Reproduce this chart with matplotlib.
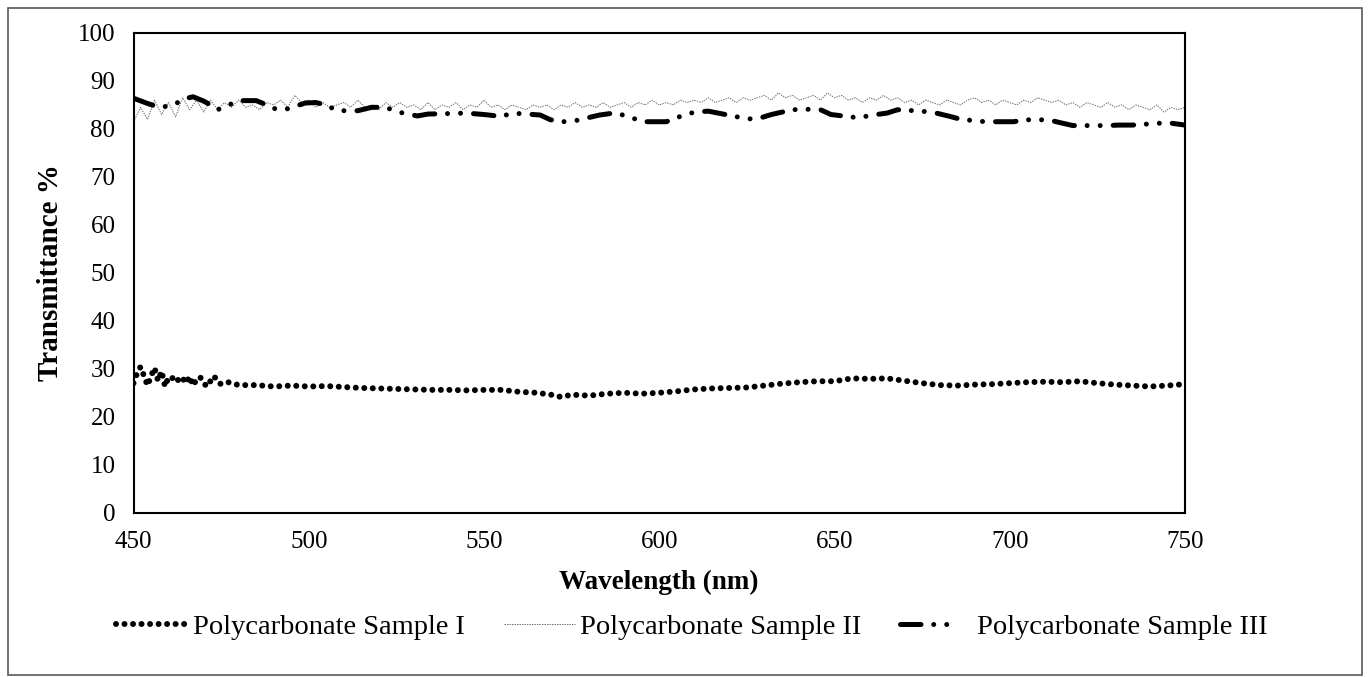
import matplotlib
matplotlib.use("Agg")
import matplotlib.pyplot as plt
from matplotlib.patches import Rectangle
import numpy as np

plt.rcParams['font.family'] = ['Liberation Serif', 'DejaVu Serif']
plt.rcParams['lines.scale_dashes'] = False

# ---- data ----
wl_s1 = [450, 451, 452, 453, 454, 455, 456, 457, 458, 459, 460, 461, 462, 463, 464,
         465, 466, 467, 468, 469, 470, 471, 472, 473, 474, 475, 477, 480, 485, 490,
         495, 500, 505, 510, 515, 520, 525, 530, 535, 540, 545, 550, 555, 560, 565,
         570, 572, 575, 580, 585, 590, 595, 600, 605, 610, 615, 620, 625, 630, 635,
         640, 645, 650, 655, 660, 665, 670, 675, 680, 685, 690, 695, 700, 705, 710,
         715, 720, 725, 730, 735, 740, 745, 750]
t_s1 = [27.0, 29.0, 30.4, 28.5, 26.5, 28.5, 30.2, 27.5, 29.5, 26.3, 28.3, 28.0, 28.5, 27.3, 28.0,
        27.0, 28.4, 26.5, 27.8, 28.3, 27.0, 26.3, 27.5, 28.5, 27.2, 26.8, 27.2, 26.6, 26.6, 26.3,
        26.5, 26.3, 26.4, 26.2, 26.0, 25.9, 25.8, 25.7, 25.6, 25.6, 25.5, 25.6, 25.6, 25.2, 25.0,
        24.5, 24.1, 24.6, 24.4, 24.8, 25.0, 24.8, 25.0, 25.3, 25.7, 25.9, 26.0, 26.1, 26.5, 26.9,
        27.2, 27.4, 27.4, 28.0, 27.9, 28.0, 27.5, 27.0, 26.6, 26.5, 26.7, 26.8, 27.0, 27.2, 27.3,
        27.2, 27.4, 27.0, 26.7, 26.5, 26.3, 26.5, 26.8]

wl_s2 = list(range(450, 751, 2))
t_s2 = [81.5, 84.5, 82.0, 86.0, 83.0, 85.5, 82.5, 86.5, 84.0, 86.0,
        83.5, 86.0, 84.0, 85.5, 84.5, 86.0, 84.5, 85.0, 84.0, 85.5,
        85.0, 86.0, 84.5, 87.0, 85.5, 86.0, 84.5, 85.5, 84.5, 85.0,
        85.5, 84.5, 86.0, 84.5, 85.0, 84.0, 85.5, 84.5, 85.5, 84.5,
        85.0, 84.0, 85.5, 84.0, 85.0, 84.5, 85.5, 84.0, 85.0, 84.5,
        86.0, 84.5, 85.0, 84.0, 85.0, 84.5, 84.0, 85.0, 84.5, 85.0,
        84.0, 85.0, 84.5, 85.5, 84.5, 85.0, 84.5, 85.5, 84.5, 85.0,
        85.5, 84.5, 85.5, 85.0, 86.0, 85.0, 85.5, 85.0, 86.0, 85.5,
        86.0, 85.5, 86.5, 85.5, 86.0, 86.5, 85.5, 86.5, 86.0, 86.5,
        87.0, 86.0, 87.5, 86.5, 87.0, 86.0, 86.5, 87.0, 86.0, 87.5,
        86.5, 87.0, 86.0, 86.5, 85.5, 86.5, 86.0, 87.0, 86.0, 86.5,
        85.5, 86.0, 85.0, 86.0, 85.5, 85.0, 86.0, 85.5, 85.0, 86.0,
        86.5, 85.5, 86.0, 85.0, 86.0, 85.5, 85.0, 86.0, 85.5, 86.5,
        86.0, 85.5, 86.0, 85.0, 85.5, 84.5, 85.5, 85.0, 84.5, 85.5,
        84.5, 85.0, 84.0, 85.0, 84.5, 84.0, 85.0, 83.5, 84.5, 84.0,
        84.5]

wl_s3 = [450, 454, 457, 460, 462, 464, 467, 470, 472, 474, 476, 480, 485, 488, 491,
         494, 499, 502, 505, 508, 514, 518, 522, 525, 531, 534, 540, 545, 550, 555,
         558, 566, 569, 573, 576, 583, 587, 591, 595, 602, 606, 610, 614, 621, 625,
         628, 632, 638, 642, 646, 649, 657, 660, 665, 668, 675, 679, 683, 686, 693,
         697, 701, 705, 711, 715, 718, 722, 728, 731, 735, 739, 745, 748, 750]
t_s3 = [86.4, 85.3, 84.6, 84.7, 85.2, 86.2, 86.7, 85.8, 85.0, 84.0, 84.6, 85.9, 85.9, 85.0, 84.0,
        84.2, 85.4, 85.5, 85.0, 83.8, 83.8, 84.5, 84.5, 83.6, 82.7, 83.1, 83.2, 83.3, 83.0, 82.6,
        83.3, 82.9, 81.9, 81.5, 81.7, 82.9, 83.3, 82.7, 81.5, 81.5, 82.6, 83.5, 83.7, 82.7, 82.1,
        82.1, 83.0, 84.0, 84.1, 84.0, 83.0, 82.3, 82.8, 83.3, 84.0, 83.7, 83.3, 82.6, 82.0, 81.5,
        81.5, 81.5, 81.9, 81.9, 81.2, 80.7, 80.7, 80.7, 80.8, 80.8, 81.0, 81.3, 81.0, 80.8]

labels = ['Polycarbonate Sample I', 'Polycarbonate Sample II', 'Polycarbonate Sample III']
x_ticks = [450, 500, 550, 600, 650, 700, 750]
y_ticks = list(range(0, 101, 10))

# ---- figure ----
fig = plt.figure(figsize=(13.68, 6.77), dpi=100)
ax = fig.add_axes([0.0976, 0.2427, 0.7686, 0.7086])

px = 72 / 100.0  # points per pixel
ax.plot(wl_s1, t_s1, color='black', lw=6 * px, linestyle=(0, (0.01, 8.5 * px)),
        dash_capstyle='round', solid_capstyle='round', label=labels[0])
ax.plot(wl_s2, t_s2, color='#6e6e6e', lw=1.0 * px, linestyle=(0, (1.0, 0.8)),
        label=labels[1])
ax.plot(wl_s3, t_s3, color='black', lw=5 * px,
        linestyle=(0, (20.5 * px, 12.7 * px, 0.01, 13 * px, 0.01, 13 * px)),
        dash_capstyle='round', solid_capstyle='round', label=labels[2])

ax.set_xlim(450, 750)
ax.set_ylim(0, 100)
ax.set_xticks(x_ticks)
ax.set_yticks(y_ticks)
ax.tick_params(axis='both', length=0, labelsize=18, pad=13)
for s in ax.spines.values():
    s.set_linewidth(1.5)
    s.set_color('black')

ax.set_xlabel('Wavelength (nm)', fontsize=19.5, fontweight='bold', labelpad=12)
ax.set_ylabel('Transmittance %', fontsize=21, fontweight='bold', labelpad=10)

h, l = ax.get_legend_handles_labels()
leg = fig.legend(h, l, loc='center', bbox_to_anchor=(692 / 1368, 1 - 627 / 677), ncol=3,
                 frameon=False, fontsize=20.5, handlelength=2.5, columnspacing=1.35,
                 handletextpad=0.2)
leg.legend_handles[2].set_linestyle((0, (20.5 * px, 12.7 * px, 0.01, 13 * px, 0.01, 60 * px)))

fig.patches.append(Rectangle((8 / 1368, 2 / 677), 1354 / 1368, 667 / 677,
                             transform=fig.transFigure, fill=False,
                             edgecolor='#595959', lw=1.2))

fig.savefig('out.png', dpi=100)
